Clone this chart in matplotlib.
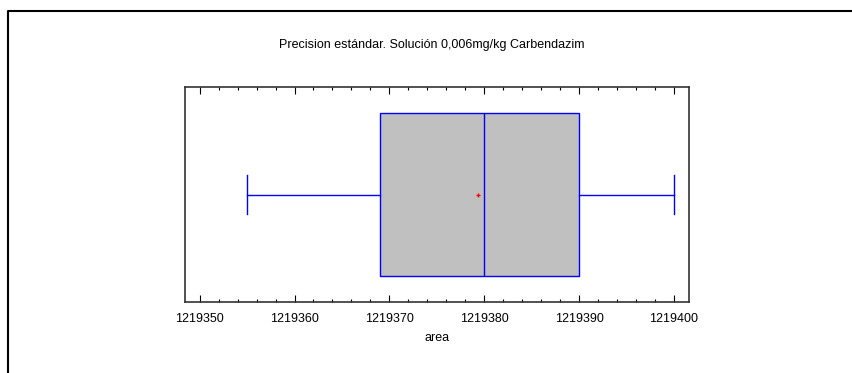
import matplotlib.pyplot as plt
from matplotlib.lines import Line2D
from matplotlib.ticker import MultipleLocator

plt.rcParams['font.family'] = ['Liberation Sans', 'DejaVu Sans']

# Five-number summary
title = 'Precision estándar. Solución 0,006mg/kg Carbendazim'
xlabel = 'area'
whisker_lo = 1219355
q1 = 1219369
median = 1219380
q3 = 1219390
whisker_hi = 1219400
mean = 1219379.3
tick_vals = [1219350, 1219360, 1219370, 1219380, 1219390, 1219400]

W, H = 853, 373
fig = plt.figure(figsize=(W / 100, H / 100), dpi=100)

# outer frame (left + top edges only)
fig.add_artist(Line2D([8 / W, 8 / W, 1], [0, 1 - 11 / H, 1 - 11 / H],
                      color='black', lw=1.5, transform=fig.transFigure))

ax = fig.add_axes([185 / W, 1 - 302 / H, (689 - 185) / W, (302 - 87) / H])

stats = [{'whislo': whisker_lo, 'q1': q1, 'med': median, 'q3': q3,
          'whishi': whisker_hi, 'mean': mean, 'fliers': []}]
ax.bxp(stats, vert=False, positions=[0], widths=[0.755], patch_artist=True,
       showmeans=True, showcaps=True,
       boxprops=dict(facecolor='#c0c0c0', edgecolor='blue', lw=1),
       medianprops=dict(color='blue', lw=1),
       whiskerprops=dict(color='blue', lw=1),
       capprops=dict(color='blue', lw=1),
       capwidths=[0.186],
       meanprops=dict(marker='+', markeredgecolor='red', markersize=3.5, mew=1))

ax.set_xlim(1219348.45, 1219401.6)
ax.set_ylim(-0.5, 0.5)
ax.set_yticks([])
ax.set_xticks(tick_vals)
ax.set_xticklabels([str(v) for v in tick_vals])
ax.xaxis.set_minor_locator(MultipleLocator(2))
ax.tick_params(axis='x', which='major', direction='in', length=5, width=0.8,
               top=True, labelsize=9, pad=8)
ax.tick_params(axis='x', which='minor', direction='in', length=2.5, width=0.8,
               top=True)
for s in ax.spines.values():
    s.set_color('#333333')
    s.set_linewidth(1.2)

ax.set_xlabel(xlabel, fontsize=9, labelpad=5)
fig.text(432 / W, 1 - 45 / H, title, ha='center', va='center', fontsize=9)

fig.savefig('out.png', dpi=100)
